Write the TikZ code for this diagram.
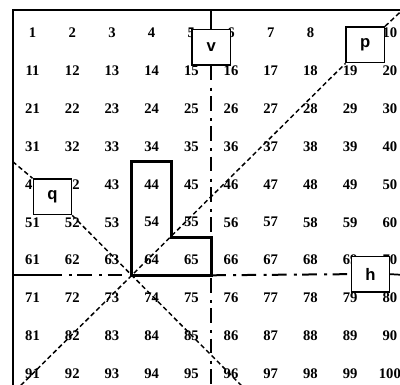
\documentclass[tikz,border=0pt]{standalone}
\usepackage{fontspec}
\setmainfont{Liberation Serif}
\newfontfamily\tagfont{Liberation Sans}
\usetikzlibrary{calc}
\tikzset{
  num/.style={
    inner sep=0pt, font=\fontsize{11}{13}\selectfont\bfseries
  },
  tag/.style={
    rectangle, draw=black, fill=white, line width=1pt,
    minimum width=28.7pt, minimum height=26.8pt, inner sep=0pt,
    text centered, font=\tagfont\fontsize{12.5}{14}\selectfont\bfseries
  },
  frame/.style={line width=1.5pt},
  stub/.style={line width=1.3pt},
  axis/.style={line width=1.5pt, dash pattern=on 11pt off 5.5pt on 2.25pt off 4pt},
  diag/.style={line width=1.1pt, dash pattern=on 3.5pt off 2.2pt},
  lshape/.style={line width=2.1pt, line join=miter},
}

\begin{document}
\begin{tikzpicture}[x=29.775pt, y=-28.425pt]
  \clip (-0.32,-0.264) rectangle (9.756,9.894);

  \foreach \r in {1,...,10} {
    \foreach \c in {1,...,10} {
      \pgfmathtruncatemacro{\k}{10*(\r-1)+\c}
      \node (n\k) [num] at (\c-0.5,\r-0.4) {\k};
    }
  }

  \coordinate (tl)    at (0,0);
  \coordinate (tr)    at (10,0);
  \coordinate (bl)    at (0,10);
  \coordinate (vtop)  at (5,0);
  \coordinate (vbot)  at (5,10);
  \coordinate (hleft) at (0,7);
  \coordinate (hmark) at (0.86,7);
  \coordinate (hmid)  at (5,7);
  \coordinate (hright) at (10,7);
  \coordinate (qtop)  at (0,4);
  \coordinate (cross) at (3,7);

  \node (boxv) [tag] at (5,0.98)    {v};
  \node (boxp) [tag] at (8.88,0.92) {p};
  \node (boxq) [tag] at (1,4.93)    {q};
  \node (boxh) [tag] at (9.01,6.97) {h};

  \draw [frame] (bl) -- (tl) -- (tr);

  \draw [stub] (vtop)   -- (boxv.north);
  \draw [axis] (boxv.south) -- (vbot);
  \draw [stub] (hleft)  -- (hmark);
  \draw [axis] (hmark)  -- (cross);
  \draw [axis] (hmid)   -- (boxh.west);
  \draw [stub] (boxh.east) -- (hright);

  \draw [diag] (qtop) -- (boxq.north west);
  \draw [diag] (boxq.south east) -- ($(boxq.south east)!3!(cross)$);
  \draw [diag] ($(cross)!-1!(boxp.south west)$) -- (boxp.south west);
  \draw [diag] (boxp.north east) -- ($(boxp.north east)!-1!(boxp.south west)$);

  \draw [lshape] (cross) -- (3,4) -- (4,4) -- (4,6) -- (5,6) -- (hmid) -- cycle;
\end{tikzpicture}
\end{document}
